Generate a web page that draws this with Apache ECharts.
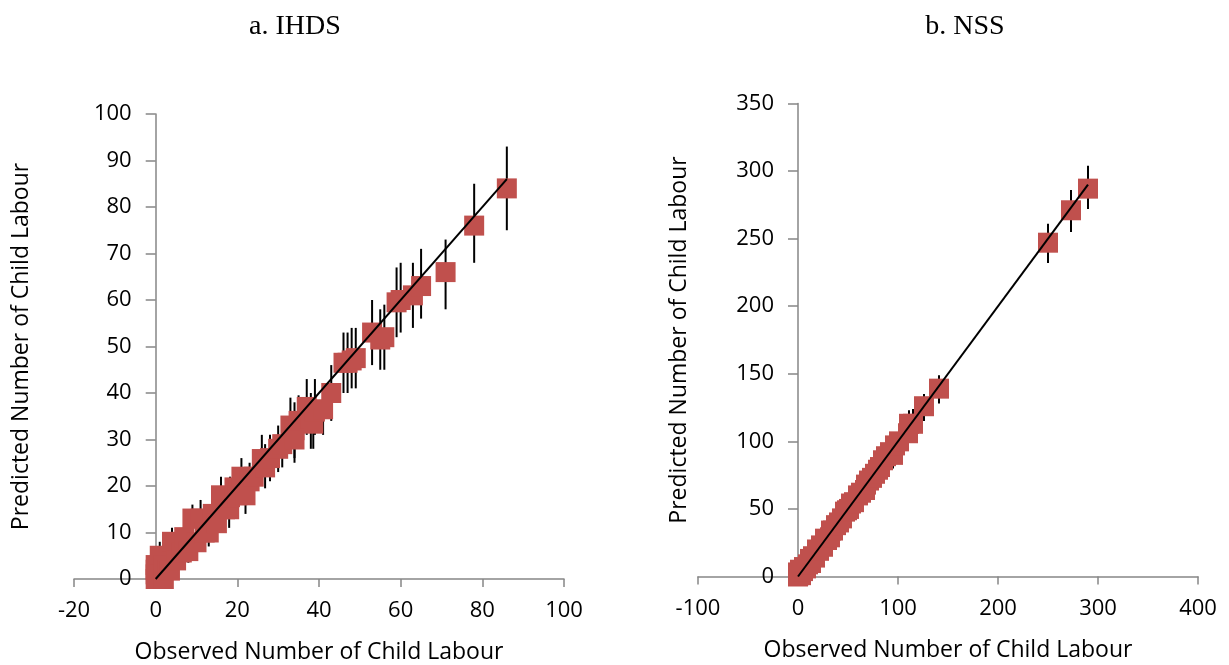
<!DOCTYPE html>
<html>
<head>
<meta charset="utf-8">
<script src="https://cdn.jsdelivr.net/npm/echarts@6/dist/echarts.min.js"></script>
<style>
html,body{margin:0;padding:0;background:#fff}
#chart{width:1229px;height:665px}
</style>
</head>
<body>
<div id="chart"></div>
<script>
// a. IHDS - observed vs predicted, with interval ends
var ihdsObs  = [0,0,0,0,1,1,2,2,3,3.5,4,5,6.4,7,8,9,10,11,12,13,14,15,16,17,18,18.2,19.3,20,21,22,23,24,26,26.8,28,30,31,33,34,34,35,37,38,38.6,39,41,43,46,47,48,49,53,55,56,59,60,63,65,71,78,86];
var ihdsPred = [0,1,2,3,5,1,0,3,2,1.8,8,4,5.7,9,6,13,7.9,13,10,10,14,12,18,15,15,17.6,19.7,18,22,18,21,22,25.8,24,26,28,29,33,32,30,34,37,34.5,33.4,36,36.5,40,46.5,46.5,47,47.5,53,51.5,52,59.5,60,61,63,66,76,84];
var ihdsLow  = [0,0,0,1,2,0,0,1,0,0,5,2,3,6,3.5,9.5,5,9.5,7,7,10.5,8.5,14,11.5,11,14,15.5,14,18,14,17,18,21,19.5,21,23,24,27,26,25,28.5,31,28,28,31,31,34,40,40,41,41,46,45,45,52,53,54,56,58,68,75];
var ihdsHigh = [1,3,4,5,8,3,1.5,5,4,4,11,6,8.5,12,8.5,16,11,17,13,13,17.5,15.5,22,19,19,22,24,22,26,22,25,26,31,29,31,33,34,39,38,35,39.5,43,40,39,43,42,46,53,53,54,54,60,58,59,67,68,68,71,73,85,93];
var ihdsFit  = [0, 86];
var ihdsXTicks = [-20, 100, 20];
var ihdsYTicks = [0, 100, 10];

// b. NSS
var nssObs  = [0,0,1,2,3,5,6,8,10,12,13,15,17,19,21,23,25,27,29,32,33,35,38,41,44,47,49,51,53,56,60,63,67,68,71,74,77,80,82,85,88,92,95,97,101,110,111,115,126,141,250,273,290];
var nssPred = [0,3,1,5,1,4,7,6,9,13,10,15,14,20,19,23,22,28,27,29,34,34,38,40,43,48,49,50,54,55,60,62,64,68,71,73,76,79,81,86,89,92,90,97,100,106,113,113,126,139,247,271,287];
var nssLow  = [0,1,0,3,0,2,4,3,6,9,7,11,10,15,14,18,17,22,21,23,28,28,32,34,37,41,42,43,47,48,52,54,56,60,62,64,67,70,72,76,79,82,80,87,90,95,101,102,115,128,232,255,272];
var nssHigh = [1,5,2,7,3,6,10,9,12,17,13,19,18,25,24,28,27,34,33,35,40,40,44,46,49,55,56,57,61,62,68,70,72,76,80,82,85,88,90,96,99,102,100,107,110,117,123,124,135,149,261,286,304];
var nssFit  = [0, 290];
var nssXTicks = [-100, 400, 100];
var nssYTicks = [0, 350, 50];

var titles = ['a. IHDS', 'b. NSS'];
var xName = 'Observed Number of Child Labour';
var yName = 'Predicted Number of Child Labour';

var dom = document.getElementById("chart");
var myChart = echarts.init(dom);
var option = null;

var labelFont = {color: '#000', fontSize: 22, fontFamily: 'Open Sans'};
var nameFont = {color: '#000', fontSize: 23, fontFamily: 'Open Sans'};

function pairs(xs, ys) {
    return xs.map(function (x, i) { return [x, ys[i]]; });
}
function bars(xs, lo, hi) {
    return xs.map(function (x, i) { return [x, lo[i], hi[i]]; });
}

function errorBar(params, api) {
    var top = api.coord([api.value(0), api.value(2)]);
    var bot = api.coord([api.value(0), api.value(1)]);
    return {
        type: 'line',
        shape: {x1: top[0], y1: top[1], x2: bot[0], y2: bot[1]},
        style: {stroke: '#000', lineWidth: 2}
    };
}

function xAxisOf(idx, ticks) {
    return {
        gridIndex: idx, type: 'value',
        min: ticks[0], max: ticks[1], interval: ticks[2],
        axisLine: {onZero: false, lineStyle: {color: '#868686', width: 1.5}},
        axisTick: {length: 8, lineStyle: {color: '#868686', width: 1.5}},
        splitLine: {show: false},
        axisLabel: Object.assign({margin: 21}, labelFont),
        name: xName, nameLocation: 'middle', nameGap: 62,
        nameTextStyle: nameFont
    };
}
// the vertical axis sits at x = 0, so it is shifted into the grid
function yAxisOf(idx, ticks, shift, gap) {
    return {
        gridIndex: idx, type: 'value', position: 'left', offset: -shift,
        min: ticks[0], max: ticks[1], interval: ticks[2],
        axisLine: {onZero: false, lineStyle: {color: '#868686', width: 1.5}},
        axisTick: {length: 10, lineStyle: {color: '#868686', width: 1.5}},
        splitLine: {show: false},
        axisLabel: Object.assign({margin: 24}, labelFont),
        name: yName, nameLocation: 'middle', nameGap: gap,
        nameTextStyle: nameFont
    };
}

function seriesOf(idx, obs, pred, lo, hi, fit) {
    return [
        {
            type: 'custom', xAxisIndex: idx, yAxisIndex: idx,
            renderItem: errorBar, data: bars(obs, lo, hi),
            encode: {x: 0, y: [1, 2]}, clip: false, z: 1, silent: true
        },
        {
            type: 'scatter', xAxisIndex: idx, yAxisIndex: idx,
            symbol: 'rect', symbolSize: 20,
            itemStyle: {color: '#C0504D', opacity: 1},
            data: pairs(obs, pred), clip: false, z: 2, silent: true
        },
        {
            type: 'line', xAxisIndex: idx, yAxisIndex: idx,
            data: pairs(fit, fit), symbol: 'none',
            lineStyle: {color: '#000', width: 2}, z: 3, silent: true
        }
    ];
}

option = {
    backgroundColor: '#fff',
    animation: false,
    graphic: [
        {type: 'text', x: 295, y: 27, style: {text: titles[0], fill: '#000', font: '28px "Liberation Serif"', textAlign: 'center', textVerticalAlign: 'middle'}},
        {type: 'text', x: 965, y: 27, style: {text: titles[1], fill: '#000', font: '28px "Liberation Serif"', textAlign: 'center', textVerticalAlign: 'middle'}}
    ],
    grid: [
        {left: 74, top: 114, width: 490, height: 465, outerBoundsMode: 'none'},
        {left: 698, top: 103.5, width: 500, height: 473, outerBoundsMode: 'none'}
    ],
    xAxis: [xAxisOf(0, ihdsXTicks), xAxisOf(1, nssXTicks)],
    yAxis: [yAxisOf(0, ihdsYTicks, 81.7, 123), yAxisOf(1, nssYTicks, 100, 107)],
    series: seriesOf(0, ihdsObs, ihdsPred, ihdsLow, ihdsHigh, ihdsFit)
        .concat(seriesOf(1, nssObs, nssPred, nssLow, nssHigh, nssFit))
};

// Invoke
if (option && typeof option === "object") {
    myChart.setOption(option, true);
}
</script>
</body>
</html>
